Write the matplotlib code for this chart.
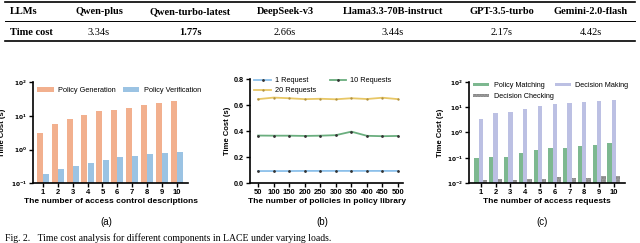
import matplotlib
matplotlib.use("Agg")
import matplotlib.pyplot as plt
import numpy as np
from matplotlib.ticker import FixedLocator, FuncFormatter, NullLocator

# ---------------- data ----------------
llms = ["Qwen-plus", "Qwen-turbo-latest", "DeepSeek-v3", "Llama3.3-70B-instruct", "GPT-3.5-turbo", "Gemini-2.0-flash"]
llm_times = ["3.34s", "1.77s", "2.66s", "3.44s", "2.17s", "4.42s"]

a_x = [1, 2, 3, 4, 5, 6, 7, 8, 9, 10]
a_gen = [3.2, 5.9, 8.2, 10.7, 14.0, 15.2, 17.0, 21.5, 25.0, 27.5]
a_ver = [0.18, 0.26, 0.33, 0.39, 0.50, 0.58, 0.64, 0.73, 0.78, 0.84]

b_x = [50, 100, 150, 200, 250, 300, 350, 400, 450, 500]
b_1 = [0.092, 0.092, 0.092, 0.093, 0.093, 0.093, 0.093, 0.093, 0.093, 0.093]
b_10 = [0.365, 0.364, 0.364, 0.362, 0.364, 0.368, 0.395, 0.363, 0.360, 0.362]
b_20 = [0.645, 0.657, 0.652, 0.645, 0.648, 0.644, 0.652, 0.646, 0.656, 0.645]

c_x = [1, 2, 3, 4, 5, 6, 7, 8, 9, 10]
c_match = [0.096, 0.105, 0.108, 0.151, 0.20, 0.238, 0.245, 0.286, 0.33, 0.375]
c_make = [3.3, 5.7, 6.4, 8.4, 11.0, 14.0, 15.4, 15.9, 17.4, 19.0]
c_check = [0.0127, 0.0139, 0.0131, 0.014, 0.0148, 0.0172, 0.0162, 0.016, 0.0183, 0.0195]

# ---------------- figure ----------------
W, H = 640, 243
fig = plt.figure(figsize=(6.4, 2.43), dpi=100)
plt.rcParams['font.family'] = ['Liberation Sans', 'DejaVu Sans']

def fx(px):
    return px / W

def fy(py):
    return 1 - py / H

def axes_px(l, t, r, b):
    return fig.add_axes([fx(l), fy(b), (r - l) / W, (b - t) / H])

# ---------------- table ----------------
serif = ['Liberation Serif', 'DejaVu Serif']
for yy, lw in [(2, 1.2), (21.5, 0.7), (41, 1.2)]:
    fig.add_artist(plt.Line2D([fx(5), fx(635)], [fy(yy), fy(yy)], color='black', lw=lw))
col_x = [99, 190, 285, 393, 502, 591]
fig.text(fx(10), fy(12), "LLMs", family=serif, weight='bold', fontsize=7.5, va='center', ha='left')
fig.text(fx(10), fy(32), "Time cost", family=serif, weight='bold', fontsize=7.5, va='center', ha='left')
for i, (name, t) in enumerate(zip(llms, llm_times)):
    fig.text(fx(col_x[i]), fy(12), name, family=serif, weight='bold', fontsize=7.5, va='center', ha='center')
    fig.text(fx(col_x[i]), fy(32), t, family=serif, weight='bold' if t == "1.77s" else 'normal',
             fontsize=7.5, va='center', ha='center')

def style(ax, ylab=5.2):
    for s in ['top', 'right']:
        ax.spines[s].set_visible(False)
    for s in ['left', 'bottom']:
        ax.spines[s].set_linewidth(1.2)
    ax.tick_params(axis='x', which='major', length=3, width=1, labelsize=5.5, pad=1.5)
    ax.tick_params(axis='y', which='major', length=3, width=1, labelsize=ylab, pad=1.5)
    for lab in ax.get_xticklabels() + ax.get_yticklabels():
        lab.set_fontweight('bold')

logfmt = FuncFormatter(lambda v, p: r'$\mathbf{10^{%d}}$' % int(round(np.log10(v))))

# ---------------- (a) ----------------
axa = axes_px(33, 82.5, 188, 183)
xa = np.array(a_x)
axa.bar(xa - 0.21, a_gen, width=0.4, color='#F2B08E')
axa.bar(xa + 0.21, a_ver, width=0.4, color='#9BC3E3')
axa.set_yscale('log')
axa.set_ylim(0.1, 100)
axa.set_xlim(0.33, 10.75)
axa.set_xticks(a_x)
axa.yaxis.set_major_locator(FixedLocator([0.1, 1, 10, 100]))
axa.yaxis.set_major_formatter(logfmt)
axa.yaxis.set_minor_locator(NullLocator())
axa.set_ylabel("Time Cost (s)", fontsize=5.5, fontweight='bold', labelpad=3)
axa.set_xlabel("The number of access control descriptions", fontsize=6, fontweight='bold', labelpad=1.5)
style(axa, ylab=4.2)
axa.legend(["Policy Generation", "Policy Verification"], ncol=2, frameon=False, fontsize=5.3,
           loc='upper left', bbox_to_anchor=(0.0, 1.0), handlelength=2.2, handleheight=0.6,
           columnspacing=1.0, handletextpad=0.6, borderaxespad=0.2)

# ---------------- (b) ----------------
axb = axes_px(250, 79, 403, 183)
l1, = axb.plot(b_x, b_1, color='#8CC0EA', lw=1.3, marker='o', ms=1.0, mfc='#333333', mec='#333333')
l10, = axb.plot(b_x, b_10, color='#6AAE7E', lw=1.3, marker='o', ms=1.0, mfc='#333333', mec='#333333')
l20, = axb.plot(b_x, b_20, color='#E8C766', lw=1.3, marker='o', ms=0.7, mfc='#b09040', mec='#b09040')
axb.set_xlim(24, 516)
axb.set_ylim(0, 0.8)
axb.set_xticks(b_x)
axb.set_yticks([0.0, 0.2, 0.4, 0.6, 0.8])
axb.yaxis.set_major_formatter(FuncFormatter(lambda v, p: "%.1f" % v))
axb.set_ylabel("Time Cost (s)", fontsize=5.5, fontweight='bold', labelpad=2)
axb.set_xlabel("The number of policies in policy library", fontsize=6, fontweight='bold', labelpad=1.5)
style(axb, ylab=5.2)
axb.legend([l1, l20, l10], ['1 Request', '20 Requests', '10 Requests'], ncol=2, frameon=False,
           fontsize=5.3, loc='upper left', bbox_to_anchor=(0.0, 1.06),
           handlelength=2.2, columnspacing=1.8, handletextpad=0.6, borderaxespad=0.2, labelspacing=0.4)

# ---------------- (c) ----------------
axc = axes_px(469, 82, 625, 183)
xc = np.array(c_x)
b1 = axc.bar(xc - 0.29, c_match, width=0.29, color='#7DB890')
b2 = axc.bar(xc, c_make, width=0.29, color='#BCC0E3')
b3 = axc.bar(xc + 0.29, c_check, width=0.29, color='#9C9C9C', hatch='......',
             edgecolor='#7f7f7f', linewidth=0)
axc.set_yscale('log')
axc.set_ylim(0.01, 100)
axc.set_xlim(0.2, 10.75)
axc.set_xticks(c_x)
axc.yaxis.set_major_locator(FixedLocator([0.01, 0.1, 1, 10, 100]))
axc.yaxis.set_major_formatter(logfmt)
axc.yaxis.set_minor_locator(NullLocator())
axc.set_ylabel("Time Cost (s)", fontsize=5.5, fontweight='bold', labelpad=2)
axc.set_xlabel("The number of access requests", fontsize=6, fontweight='bold', labelpad=1.5)
style(axc, ylab=4.2)
axc.legend([b1, b3, b2], ['Policy Matching', 'Decision Checking', 'Decision Making'], ncol=2,
           frameon=False, fontsize=5.2, loc='upper left', bbox_to_anchor=(0.0, 1.04),
           handlelength=2.2, handleheight=0.35, columnspacing=0.2, handletextpad=0.6,
           borderaxespad=0.2, labelspacing=0.5)

# ---------------- sub-captions & caption ----------------
for lab, xx in [("(a)", 106), ("(b)", 322), ("(c)", 542)]:
    fig.text(fx(xx), fy(222), lab, fontsize=7, ha='center', va='center')
fig.text(fx(5), fy(238), "Fig. 2.   Time cost analysis for different components in LACE under varying loads.",
         family=serif, fontsize=7, ha='left', va='center')

fig.savefig("out.png", dpi=100)
